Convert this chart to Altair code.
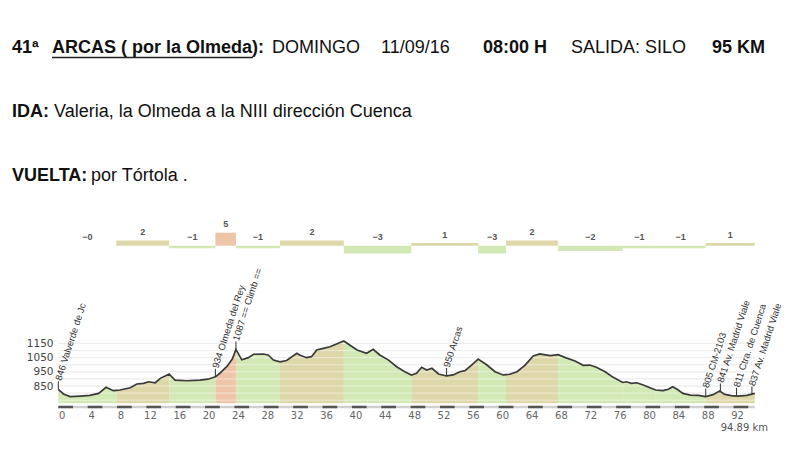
import altair as alt
import pandas as pd

# ---------------- content ----------------
title_parts = ["41ª", "ARCAS ( por la Olmeda):", "DOMINGO", "11/09/16", "08:00  H", "SALIDA:  SILO", "95 KM"]
title_bold = [True, True, False, False, True, False, True]
ida_parts = ["IDA:", "Valeria, la Olmeda a la NIII dirección Cuenca"]
ida_bold = [True, False]
vuelta_parts = ["VUELTA:", "por Tórtola ."]
vuelta_bold = [True, False]

profile_km = [0.0, 0.7, 1.6, 3.0, 4.3, 5.5, 6.5, 7.5, 7.9, 8.4, 9.8, 10.7, 11.6, 12.3, 13.2, 13.9,
              15.1, 15.9, 17.5, 19.3, 20.4, 21.4, 22.0, 23.0, 23.7, 24.2, 25.0, 25.9, 26.6, 27.9,
              28.6, 29.3, 30.2, 31.1, 32.5, 32.9, 33.8, 34.5, 35.2, 36.1, 37.0, 37.9, 38.9, 39.7,
              40.7, 42.0, 42.9, 43.8, 45.0, 46.1, 47.2, 48.1, 48.8, 49.5, 50.2, 50.9, 51.8, 52.9,
              53.8, 54.7, 55.4, 56.3, 57.2, 58.4, 59.5, 60.6, 61.0, 61.5, 62.5, 63.6, 64.7, 65.6,
              67.0, 68.1, 69.0, 70.4, 71.5, 72.4, 73.3, 74.5, 75.6, 76.9, 77.4, 78.1, 78.8, 79.7,
              80.6, 81.4, 82.4, 83.1, 83.7, 84.3, 85.1, 86.1, 87.2, 88.2, 89.2, 90.1, 90.8, 91.7,
              92.6, 93.8, 94.89]
profile_elev = [827, 794, 775, 779, 784, 798, 841, 817, 819, 822, 838, 864, 869, 880, 873, 904,
                935, 892, 887, 892, 898, 915, 940, 990, 1040, 1108, 1035, 1050, 1074, 1076,
                1069, 1033, 1021, 1030, 1081, 1069, 1050, 1057, 1104, 1116, 1127, 1146, 1168, 1139,
                1104, 1081, 1109, 1069, 1033, 986, 951, 928, 940, 982, 963, 975, 935, 921,
                928, 951, 958, 998, 1040, 998, 951, 928, 930, 933, 951, 998, 1062, 1076,
                1064, 1071, 1052, 1026, 996, 998, 982, 951, 911, 875, 880, 869, 873, 857,
                838, 822, 817, 827, 845, 827, 798, 786, 784, 775, 789, 815, 791, 782,
                779, 784, 798]

seg_start = [0.0, 7.9, 15.1, 21.4, 24.2, 30.2, 38.9, 48.1, 57.2, 61.0, 68.1, 76.9, 81.4, 88.2]
seg_end = [7.9, 15.1, 21.4, 24.2, 30.2, 38.9, 48.1, 57.2, 61.0, 68.1, 76.9, 81.4, 88.2, 94.89]
seg_grade = [0, 2, -1, 5, -1, 2, -3, 1, -3, 2, -2, -1, -1, 1]
seg_label = ["−0", "2", "−1", "5", "−1", "2", "−3", "1", "−3", "2", "−2", "−1", "−1", "1"]

waypoint_km = [0.0, 21.4, 24.2, 52.9, 88.2, 90.2, 92.4, 94.5]
waypoint_elev = [827, 915, 1108, 921, 775, 812, 780, 790]
waypoint_label = ["846 Valverde de Jc", "934 Olmeda del Rey", "1087 == Climb ==", "950 Arcas",
                  "805 CM-2103", "841 Av. Madrid Viale", "811 Ctra. de Cuenca", "837 Av. Madrid Viale"]

total_km = 94.89
km_ticks = list(range(0, 93, 4))
elev_ticks = [850, 950, 1050, 1150]
grid_elev = [750, 800, 850, 900, 950, 1000, 1050, 1100, 1150]
total_label = "94.89 km"

# ---------------- layout ----------------
W, H = 800, 460
X_LEFT, X_RIGHT = 58.3, 754.8
Y_MIN, Y_MAX = 728, 1200
Y_BASE = 403.3
PX_PER_M = 0.1417
BAR_BASE = 245.7
BAR_PX = 2.6
AXIS_Y = 407
HEAD_FONT = "Liberation Sans, Arial, sans-serif"
HEAD_SIZE = 18
TICK_FONT = "DejaVu Sans"


def xs():
    return alt.Scale(domain=[0, total_km], range=[X_LEFT, X_RIGHT], nice=False, zero=False)


def ys():
    return alt.Scale(domain=[Y_MIN, Y_MAX], range=[Y_BASE, Y_BASE - (Y_MAX - Y_MIN) * PX_PER_M],
                     nice=False, zero=False)


def gs():
    return alt.Scale(domain=[-5, 5], range=[BAR_BASE + 5 * BAR_PX, BAR_BASE - 5 * BAR_PX],
                     nice=False, zero=False)


def cs():
    return alt.Scale(domain=["down", "up", "steep"], range=["#d2e9b5", "#ddd7a9", "#eec5a8"])


def cat(g):
    return "steep" if g >= 5 else ("up" if g > 0 else "down")


# ---------------- tables ----------------
prof = pd.DataFrame({"km": profile_km, "elev": profile_elev})
fill_rows = []
for i, (s, e, g) in enumerate(zip(seg_start, seg_end, seg_grade)):
    for k, v in zip(profile_km, profile_elev):
        if s - 1e-9 <= k <= e + 1e-9:
            fill_rows.append({"seg": i, "km": k, "elev": v, "cat": cat(g), "base": Y_MIN})
fill = pd.DataFrame(fill_rows)

bars = pd.DataFrame({"start": seg_start, "end": seg_end, "grade": seg_grade, "label": seg_label})
bars["cat"] = [cat(g) for g in seg_grade]
bars["mid"] = (bars["start"] + bars["end"]) / 2
bars["top"] = bars["grade"].clip(lower=0)
bars["zero"] = 0

wps = pd.DataFrame({"km": waypoint_km, "elev": waypoint_elev, "label": waypoint_label})
grid = pd.DataFrame({"g": grid_elev, "x0": 0.0, "x1": total_km})
dashes = pd.DataFrame({"s": km_ticks, "e": [t + 2 for t in km_ticks]})
span = pd.DataFrame({"x0": [0.0], "x1": [total_km]})
ticks_df = pd.DataFrame({"t": km_ticks, "lab": [str(t) for t in km_ticks]})


# ---------------- header text ----------------
def piece(s, x, y, bold, size=HEAD_SIZE):
    return alt.Chart(pd.DataFrame({"t": [s]})).mark_text(
        align="left", baseline="alphabetic", font=HEAD_FONT, fontSize=size,
        fontWeight="bold" if bold else "normal", color="#111111"
    ).encode(x=alt.value(x), y=alt.value(y), text="t:N")


title_x = [12, 52, 272, 381, 483, 571, 712]
ida_x = [12, 54]
vuelta_x = [12, 91]
header = []
for s, x, b in zip(title_parts, title_x, title_bold):
    header.append(piece(s, x, 53, b))
for s, x, b in zip(ida_parts, ida_x, ida_bold):
    header.append(piece(s, x, 117, b))
for s, x, b in zip(vuelta_parts, vuelta_x, vuelta_bold):
    header.append(piece(s, x, 181, b))
underline = alt.Chart(pd.DataFrame({"a": [0]})).mark_rule(color="#222222", strokeWidth=1.5).encode(
    x=alt.value(52), x2=alt.value(253), y=alt.value(57.5))

# ---------------- elevation profile ----------------
grid_under = alt.Chart(grid).mark_rule(color="#dddddd", strokeWidth=1).encode(
    x=alt.X("x0:Q", scale=xs(), axis=None), x2="x1:Q",
    y=alt.Y("g:Q", scale=ys(), axis=None))
area = alt.Chart(fill).mark_area().encode(
    x=alt.X("km:Q", scale=xs(), axis=None),
    y=alt.Y("elev:Q", scale=ys(), axis=None, stack=None),
    y2="base:Q",
    color=alt.Color("cat:N", scale=cs(), legend=None),
    detail="seg:N")
grid_over = alt.Chart(grid).mark_rule(color="#ffffff", strokeWidth=1, opacity=0.5).encode(
    x=alt.X("x0:Q", scale=xs(), axis=None), x2="x1:Q",
    y=alt.Y("g:Q", scale=ys(), axis=None))
line = alt.Chart(prof).mark_line(color="#3a3a3a", strokeWidth=1.7).encode(
    x=alt.X("km:Q", scale=xs(), axis=None),
    y=alt.Y("elev:Q", scale=ys(), axis=alt.Axis(
        values=elev_ticks, format="d", offset=-55, domain=False, ticks=False, grid=False,
        labelPadding=2, labelFont=TICK_FONT, labelFontSize=10.5, labelColor="#444444",
        title=None)))
leaders = alt.Chart(wps).mark_rule(color="#333333", strokeWidth=1, y2Offset=-8).encode(
    x=alt.X("km:Q", scale=xs(), axis=None),
    y=alt.Y("elev:Q", scale=ys(), axis=None),
    y2="elev:Q")
wp_text = alt.Chart(wps).mark_text(
    angle=288, align="left", baseline="middle", yOffset=-9, font="Liberation Sans",
    fontSize=9.5, color="#333333").encode(
    x=alt.X("km:Q", scale=xs(), axis=None),
    y=alt.Y("elev:Q", scale=ys(), axis=None),
    text="label:N")

# ---------------- gradient bars ----------------
bar_rect = alt.Chart(bars).mark_rect().encode(
    x=alt.X("start:Q", scale=xs(), axis=None), x2="end:Q",
    y=alt.Y("grade:Q", scale=gs(), axis=None), y2="zero:Q",
    color=alt.Color("cat:N", scale=cs(), legend=None))
bar_text = alt.Chart(bars).mark_text(
    baseline="bottom", yOffset=-3.5, font="Liberation Sans", fontSize=9, fontWeight="bold",
    color="#555555").encode(
    x=alt.X("mid:Q", scale=xs(), axis=None),
    y=alt.Y("top:Q", scale=gs(), axis=None),
    text="label:N")

# ---------------- distance scale bar ----------------
scale_bg = alt.Chart(span).mark_rule(color="#cfcfcf", strokeWidth=2.5).encode(
    x=alt.X("x0:Q", scale=xs(), axis=None), x2="x1:Q", y=alt.value(AXIS_Y))
scale_dash = alt.Chart(dashes).mark_rule(color="#555555", strokeWidth=2.5).encode(
    x=alt.X("s:Q", scale=xs(), axis=None), x2="e:Q", y=alt.value(AXIS_Y))
tick_text = alt.Chart(ticks_df).mark_text(
    align="center", baseline="middle", dx=4, font=TICK_FONT, fontSize=10, color="#666666").encode(
    x=alt.X("t:Q", scale=xs(), axis=None), y=alt.value(415.5), text="lab:N")
total_text = alt.Chart(pd.DataFrame({"t": [total_label]})).mark_text(
    align="right", baseline="middle", font=TICK_FONT, fontSize=10, color="#555555").encode(
    x=alt.value(768), y=alt.value(427.5), text="t:N")

chart = alt.layer(
    *header, underline,
    grid_under, area, grid_over, line, leaders, wp_text,
    bar_rect, bar_text,
    scale_bg, scale_dash, tick_text, total_text
).resolve_scale(y="independent").properties(
    width=W, height=H, autosize=alt.AutoSizeParams(type="none"), padding=0,
    background="white"
).configure_view(stroke=None)

chart.save("out.html", embed_options={"renderer": "svg", "actions": False})
